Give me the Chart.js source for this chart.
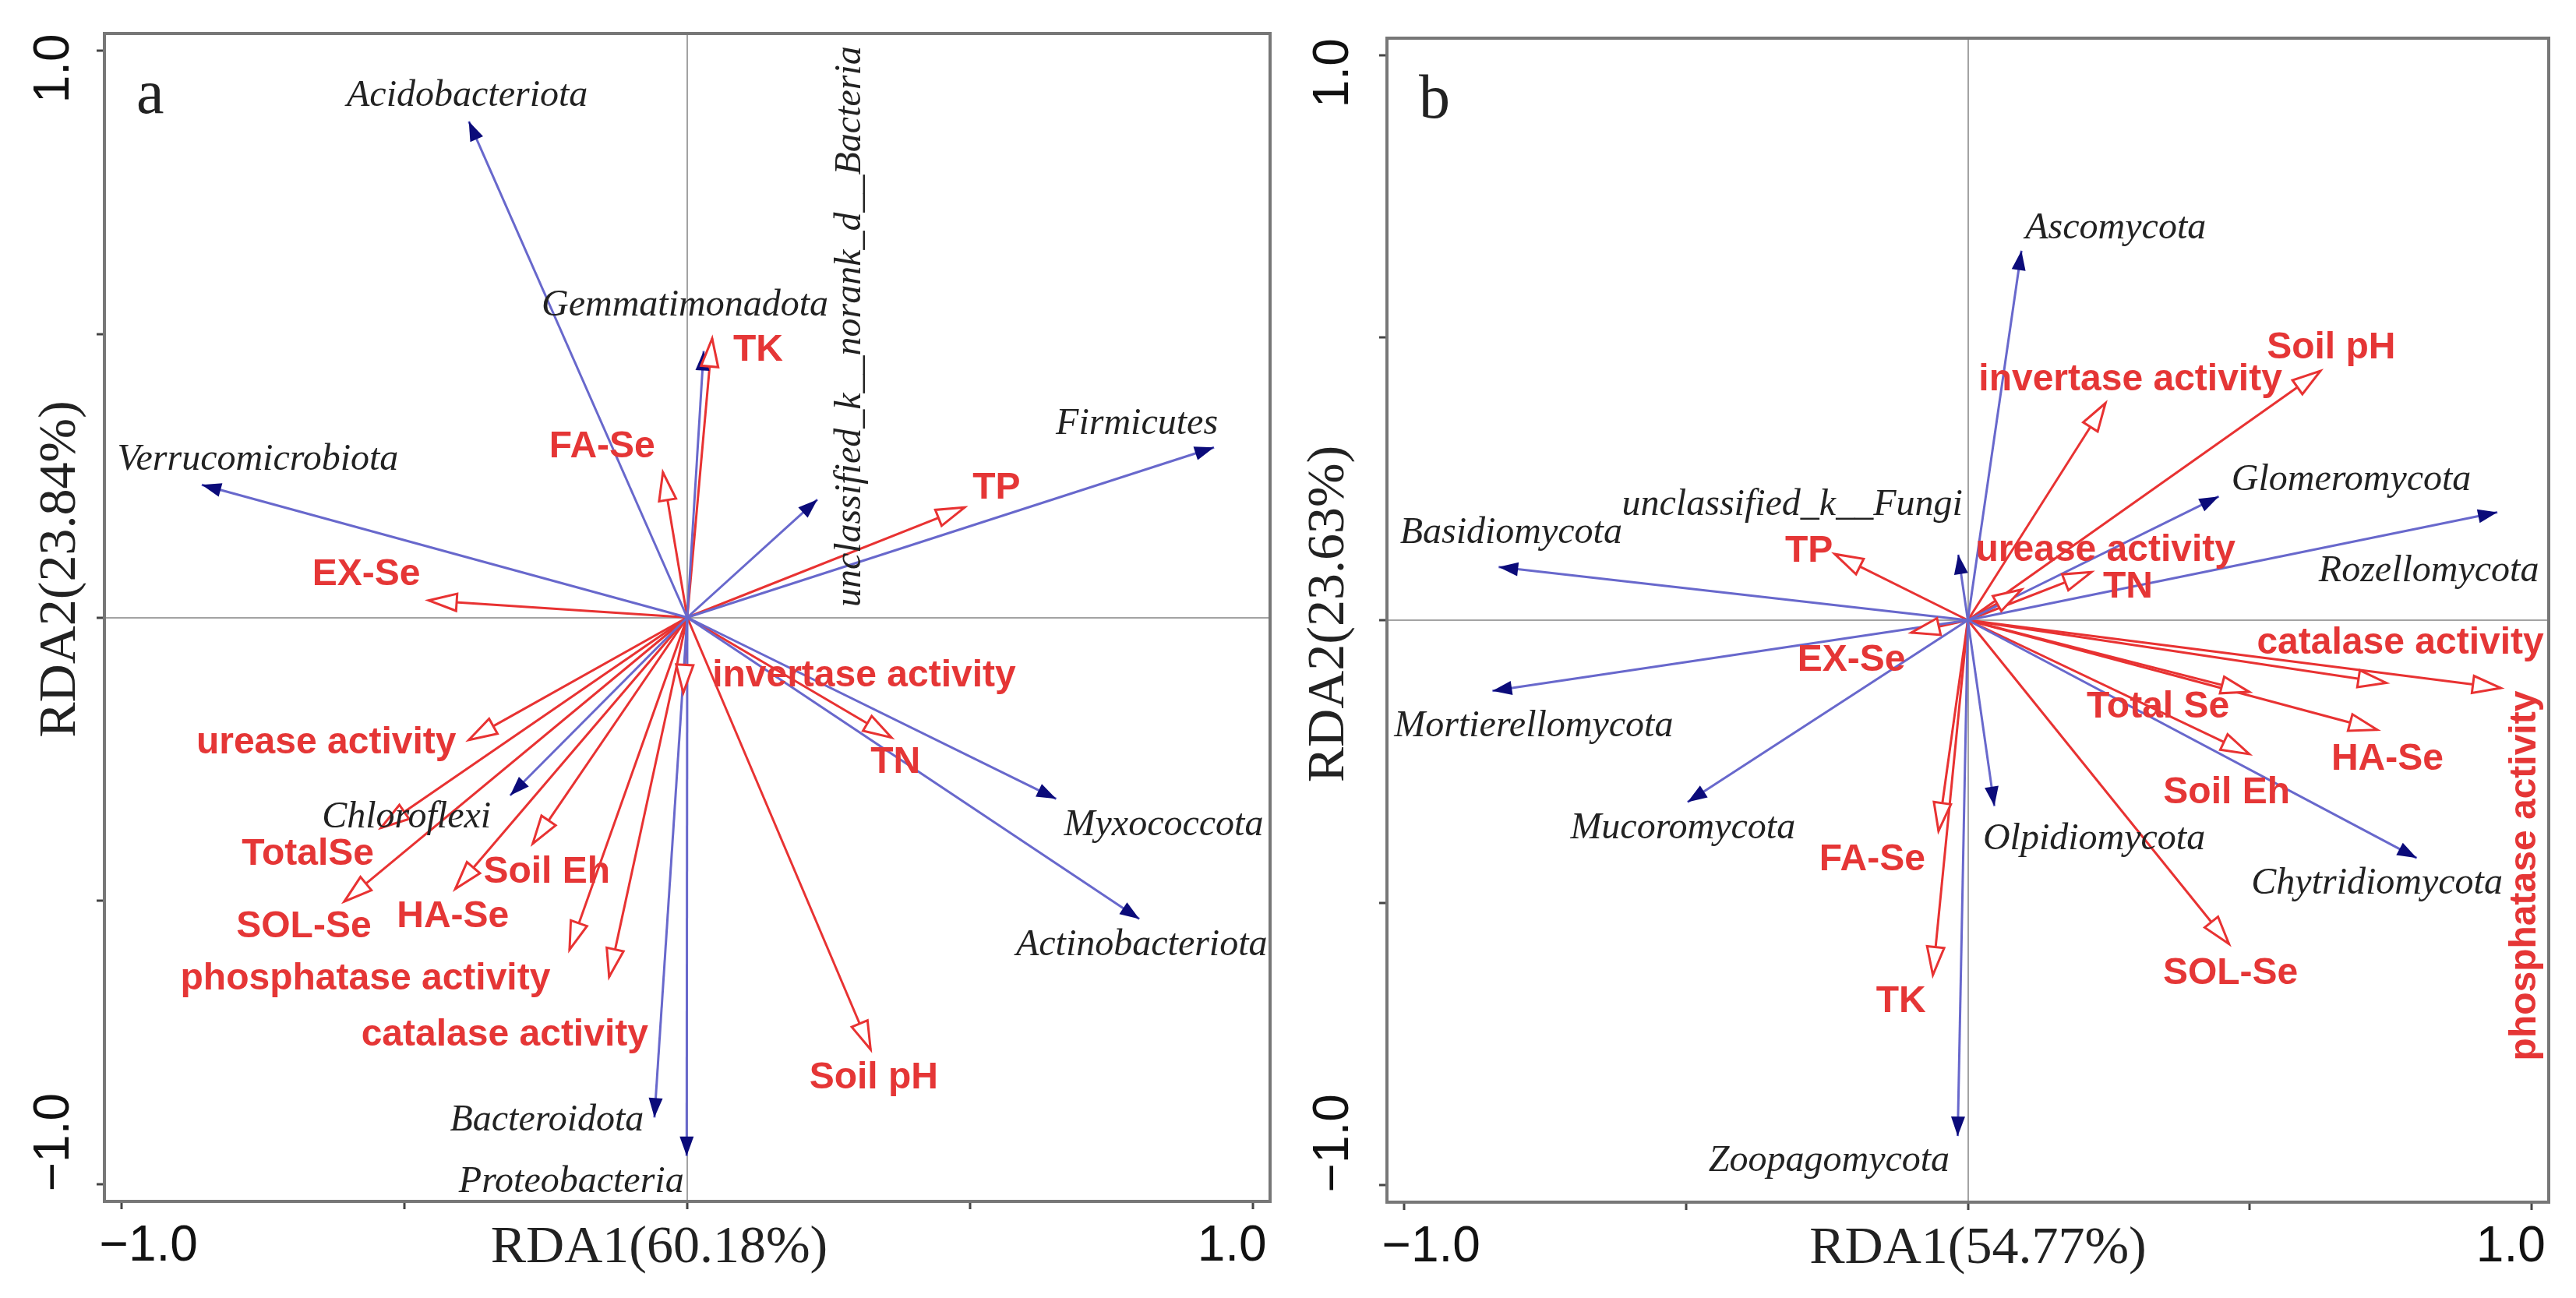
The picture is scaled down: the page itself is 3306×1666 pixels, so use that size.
<!DOCTYPE html>
<html>
<head>
<meta charset="utf-8">
<script src="https://cdn.jsdelivr.net/npm/chart.js@4.4.1/dist/chart.umd.min.js"></script>
<style>
  body { margin: 0; background: #fff; }
  #wrap { position: relative; width: 3306px; height: 1666px; }
  canvas { position: absolute; top: 0; }
  #rdaA { left: 0; }
  #rdaB { left: 1653px; }
</style>
</head>
<body>
<div id="wrap">
  <canvas id="rdaA" width="1653" height="1666"></canvas>
  <canvas id="rdaB" width="1653" height="1666"></canvas>
</div>
<script>
const tickValues = [-1, -0.5, 0, 0.5, 1];

// panel a: bacterial phyla and soil factors
const bacteriaNames = ["Acidobacteriota", "Gemmatimonadota", "Verrucomicrobiota", "unclassified_k__norank_d__Bacteria",
  "Firmicutes", "Chloroflexi", "Myxococcota", "Actinobacteriota", "Bacteroidota", "Proteobacteria"];
const bacteriaRDA1 = [-0.386, 0.029, -0.858, 0.230, 0.931, -0.313, 0.652, 0.799, -0.058, -0.001];
const bacteriaRDA2 = [0.875, 0.470, 0.234, 0.208, 0.300, -0.314, -0.320, -0.532, -0.882, -0.950];

const envNamesA = ["TK", "FA-Se", "TP", "EX-Se", "invertase activity", "urease activity", "TotalSe", "SOL-Se",
  "HA-Se", "Soil Eh", "phosphatase activity", "catalase activity", "TN", "Soil pH"];
const envRDA1A = [0.044, -0.043, 0.490, -0.457, -0.007, -0.386, -0.541, -0.606, -0.410, -0.273, -0.208, -0.138, 0.361, 0.324];
const envRDA2A = [0.492, 0.256, 0.194, 0.030, -0.133, -0.216, -0.371, -0.501, -0.479, -0.399, -0.586, -0.634, -0.212, -0.762];

// panel b: fungal phyla and soil factors
const fungiNames = ["Ascomycota", "Glomeromycota", "Rozellomycota", "Basidiomycota", "unclassified_k__Fungi",
  "Mortierellomycota", "Mucoromycota", "Olpidiomycota", "Chytridiomycota", "Zoopagomycota"];
const fungiRDA1 = [0.095, 0.445, 0.939, -0.832, -0.017, -0.843, -0.497, 0.047, 0.796, -0.018];
const fungiRDA2 = [0.654, 0.219, 0.191, 0.094, 0.116, -0.125, -0.322, -0.329, -0.421, -0.913];

const envNamesB = ["Soil pH", "invertase activity", "TP", "urease activity", "TN", "EX-Se", "catalase activity",
  "phosphatase activity", "HA-Se", "Total Se", "Soil Eh", "SOL-Se", "FA-Se", "TK"];
const envRDA1B = [0.625, 0.244, -0.236, 0.095, 0.219, -0.100, 0.742, 0.945, 0.726, 0.499, 0.499, 0.463, -0.052, -0.062];
const envRDA2B = [0.441, 0.384, 0.117, 0.054, 0.085, -0.022, -0.111, -0.120, -0.194, -0.127, -0.237, -0.573, -0.373, -0.628];

const RED = "rgb(232, 50, 50)";
const RED_TEXT = "#e53636";
const BLUE_LINE = "rgb(104, 104, 204)";
const NAVY = "#0b0b7a";
const SERIF = '"Liberation Serif", "Times New Roman", serif';
const SANS = '"Liberation Sans", Arial, sans-serif';

// label placement, px from each arrow tip (label centre)
const panels = {
  rdaA: {
    letter: "a",
    xTitle: "RDA1(60.18%)", xTitleShift: -36,
    yTitle: "RDA2(23.84%)", yTitleX: -56, yTitleShift: -62,
    yTickX: -64,
    padding: { left: 134, right: 23, top: 43, bottom: 124 },
    speciesOffsets: [[-2, -32], [-24, -58], [72, -32], [42, -222], [-99, -30], [-133, 28], [138, 34], [3, 34], [-138, 4], [-148, 34]],
    speciesRotated: [3],
    envOffsets: [[59, 15], [-78, -32], [41, -25], [-80, -33], [232, -22], [-183, 4], [-94, 34], [-52, 33], [-3, 36],
      [18, 37], [-262, 38], [-134, 75], [5, 32], [4, 37]],
    envRotated: []
  },
  rdaB: {
    letter: "b",
    xTitle: "RDA1(54.77%)", xTitleShift: 13,
    yTitle: "RDA2(23.63%)", yTitleX: -74, yTitleShift: -8,
    yTickX: -68,
    padding: { left: 127, right: 35, top: 49, bottom: 123 },
    speciesOffsets: [[121, -28], [170, -21], [-88, 76], [16, -43], [-213, -63], [53, 46], [-6, 34], [128, 43], [-51, 33], [-165, 32]],
    speciesRotated: [],
    envOffsets: [[14, -29], [32, -30], [-33, -3], [108, -50], [47, 19], [-77, 36], [18, -51], [31, 241], [13, 38],
      [-117, 20], [-29, 50], [2, 38], [-85, 37], [-41, 34]],
    envRotated: [7]
  }
};

function arrowSets(names, xs, ys, kind) {
  return names.map((name, i) => ({
    label: name,
    kind,
    index: i,
    data: [{ x: 0, y: 0 }, { x: xs[i], y: ys[i] }],
    showLine: true,
    borderColor: kind === "env" ? RED : BLUE_LINE,
    borderWidth: 3,
    pointRadius: 0,
    pointHoverRadius: 0
  }));
}

function drawHead(ctx, px, py, ang, open) {
  const len = open ? 36 : 25;
  const half = open ? 11 : 9;
  ctx.save();
  ctx.translate(px, py);
  ctx.rotate(ang);
  ctx.beginPath();
  ctx.moveTo(0, 0);
  ctx.lineTo(-len, -half);
  ctx.lineTo(-len, half);
  ctx.closePath();
  if (open) {
    ctx.fillStyle = "#fff";
    ctx.fill();
    ctx.lineWidth = 3;
    ctx.strokeStyle = RED;
    ctx.stroke();
  } else {
    ctx.fillStyle = NAVY;
    ctx.fill();
  }
  ctx.restore();
}

function drawText(ctx, text, x, y, rotated) {
  ctx.save();
  ctx.translate(x, y);
  if (rotated) ctx.rotate(-Math.PI / 2);
  ctx.fillText(text, 0, 0);
  ctx.restore();
}

const rdaOverlay = {
  id: "rdaOverlay",
  afterDatasetsDraw(chart) {
    const panel = panels[chart.canvas.id];
    const { ctx, scales: { x, y } } = chart;
    const x0 = x.getPixelForValue(0);
    const y0 = y.getPixelForValue(0);
    chart.data.datasets.forEach(ds => {
      const tip = ds.data[1];
      const px = x.getPixelForValue(tip.x);
      const py = y.getPixelForValue(tip.y);
      drawHead(ctx, px, py, Math.atan2(py - y0, px - x0), ds.kind === "env");
    });
    ctx.textAlign = "center";
    ctx.textBaseline = "middle";
    chart.data.datasets.forEach(ds => {
      const tip = ds.data[1];
      const px = x.getPixelForValue(tip.x);
      const py = y.getPixelForValue(tip.y);
      const isEnv = ds.kind === "env";
      const off = (isEnv ? panel.envOffsets : panel.speciesOffsets)[ds.index];
      const rotated = (isEnv ? panel.envRotated : panel.speciesRotated).includes(ds.index);
      ctx.font = isEnv ? `bold 48px ${SANS}` : `italic 48px ${SERIF}`;
      ctx.fillStyle = isEnv ? RED_TEXT : "#222";
      drawText(ctx, ds.label, px + off[0], py + off[1], rotated);
    });
  },
  afterDraw(chart) {
    const panel = panels[chart.canvas.id];
    const { ctx, chartArea: area, scales: { x, y } } = chart;
    ctx.save();
    // frame
    ctx.strokeStyle = "#777";
    ctx.lineWidth = 4;
    ctx.strokeRect(area.left, area.top, area.right - area.left, area.bottom - area.top);
    // tick labels, only the ends
    ctx.fillStyle = "#111";
    ctx.font = `64px ${SANS}`;
    ctx.textAlign = "center";
    ctx.textBaseline = "middle";
    ctx.fillText("\u22121.0", x.getPixelForValue(-1) + 35, area.bottom + 58);
    ctx.fillText("1.0", x.getPixelForValue(1) - 27, area.bottom + 58);
    drawText(ctx, "1.0", area.left + panel.yTickX, y.getPixelForValue(1) + 23, true);
    drawText(ctx, "\u22121.0", area.left + panel.yTickX, y.getPixelForValue(-1) - 54, true);
    // axis titles
    ctx.fillStyle = "#222";
    ctx.font = `68px ${SERIF}`;
    drawText(ctx, panel.xTitle, (area.left + area.right) / 2 + panel.xTitleShift, area.bottom + 60, false);
    drawText(ctx, panel.yTitle, area.left + panel.yTitleX, (area.top + area.bottom) / 2 + panel.yTitleShift, true);
    // panel letter
    ctx.font = `80px ${SERIF}`;
    ctx.textAlign = "left";
    ctx.textBaseline = "alphabetic";
    ctx.fillText(panel.letter, area.left + 41, area.top + 102);
    ctx.restore();
  }
};

function axisOptions() {
  return {
    type: "linear",
    min: -1.03,
    max: 1.03,
    afterBuildTicks: scale => { scale.ticks = tickValues.map(value => ({ value })); },
    afterFit: scale => {
      if (scale.isHorizontal()) scale.height = 0;
      else scale.width = 0;
    },
    ticks: { display: false },
    grid: {
      color: ctx => (ctx.tick && ctx.tick.value === 0 ? "#a3a3a3" : "rgba(0,0,0,0)"),
      lineWidth: 2,
      drawTicks: true,
      tickLength: 10,
      tickWidth: 3,
      tickColor: "#444"
    },
    border: { display: false }
  };
}

function buildChart(id, datasets) {
  return new Chart(document.getElementById(id), {
    type: "scatter",
    data: { datasets },
    options: {
      responsive: false,
      animation: false,
      devicePixelRatio: 1,
      layout: { padding: panels[id].padding },
      scales: { x: axisOptions(), y: axisOptions() },
      plugins: { legend: { display: false }, tooltip: { enabled: false } },
      events: []
    },
    plugins: [rdaOverlay]
  });
}

buildChart("rdaA", [
  ...arrowSets(bacteriaNames, bacteriaRDA1, bacteriaRDA2, "species"),
  ...arrowSets(envNamesA, envRDA1A, envRDA2A, "env")
]);
buildChart("rdaB", [
  ...arrowSets(fungiNames, fungiRDA1, fungiRDA2, "species"),
  ...arrowSets(envNamesB, envRDA1B, envRDA2B, "env")
]);
</script>
</body>
</html>
